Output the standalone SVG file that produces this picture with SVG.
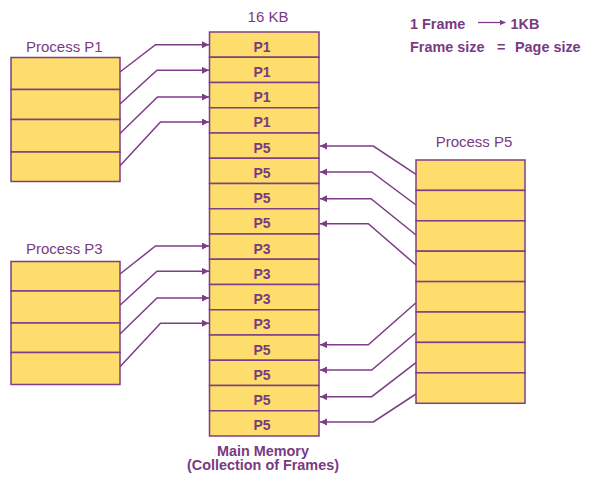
<svg xmlns="http://www.w3.org/2000/svg" width="591" height="478" viewBox="0 0 591 478">
<style>
.box{fill:#fddd6b;stroke:#7d3f86;stroke-width:1.5}
.lbl{font-family:"Liberation Sans",Arial,sans-serif;font-size:15px;fill:#7a3a82}
.b{font-family:"Liberation Sans",Arial,sans-serif;font-size:14.4px;font-weight:bold;fill:#7a3a82}
.mem{font-family:"Liberation Sans",Arial,sans-serif;font-size:14px;font-weight:bold;fill:#7a3a82;text-anchor:middle}
.cap{font-family:"Liberation Sans",Arial,sans-serif;font-size:14.4px;font-weight:bold;fill:#7a3a82;text-anchor:middle}
.c{fill:none;stroke:#7d3c86;stroke-width:1.5}
</style>
<defs>
<marker id="ah" markerWidth="8" markerHeight="8" refX="7" refY="3.5" orient="auto" markerUnits="userSpaceOnUse">
<path d="M0,0 L7,3.5 L0,7 z" fill="#7d3c86"/>
</marker>
<marker id="ahs" markerWidth="7" markerHeight="7" refX="6" refY="3" orient="auto" markerUnits="userSpaceOnUse">
<path d="M0,0 L6,3 L0,6 z" fill="#7d3c86"/>
</marker>
</defs>
<rect width="591" height="478" fill="#ffffff"/>

<g id="legend">
<text class="b" x="410" y="28.5">1 Frame</text>
<line x1="478" y1="22.5" x2="505.5" y2="22.5" stroke="#7d3c86" stroke-width="1.3" marker-end="url(#ahs)"/>
<text class="b" x="510.5" y="28.5">1KB</text>
<text class="b" x="410" y="52">Frame size</text>
<text class="b" x="497" y="52">=</text>
<text class="b" x="515" y="52">Page size</text>
</g>

<g id="process-p1">
<text class="lbl" x="26" y="51.5">Process P1</text>
<rect class="box" x="11" y="57.5" width="109" height="32"/>
<rect class="box" x="11" y="89.5" width="109" height="30"/>
<rect class="box" x="11" y="119.5" width="109" height="32.5"/>
<rect class="box" x="11" y="152" width="109" height="29.5"/>
</g>

<g id="process-p3">
<text class="lbl" x="26" y="253.5">Process P3</text>
<rect class="box" x="11" y="261.5" width="109" height="29.5"/>
<rect class="box" x="11" y="291" width="109" height="32"/>
<rect class="box" x="11" y="323" width="109" height="29.5"/>
<rect class="box" x="11" y="352.5" width="109" height="32"/>
</g>

<g id="process-p5">
<text class="lbl" x="474" y="146.5" text-anchor="middle">Process P5</text>
<rect class="box" x="416" y="160" width="109" height="30.4"/>
<rect class="box" x="416" y="190.4" width="109" height="30.4"/>
<rect class="box" x="416" y="220.8" width="109" height="30.4"/>
<rect class="box" x="416" y="251.2" width="109" height="30.4"/>
<rect class="box" x="416" y="281.6" width="109" height="30.4"/>
<rect class="box" x="416" y="312" width="109" height="30.4"/>
<rect class="box" x="416" y="342.4" width="109" height="30.4"/>
<rect class="box" x="416" y="372.8" width="109" height="30.5"/>
</g>

<g id="main-memory">
<text class="lbl" x="268" y="22" text-anchor="middle">16 KB</text>
<rect class="box" x="209.5" y="32" width="109.5" height="25.25"/>
<rect class="box" x="209.5" y="57.25" width="109.5" height="25.25"/>
<rect class="box" x="209.5" y="82.5" width="109.5" height="25.25"/>
<rect class="box" x="209.5" y="107.75" width="109.5" height="25.25"/>
<rect class="box" x="209.5" y="133" width="109.5" height="25.25"/>
<rect class="box" x="209.5" y="158.25" width="109.5" height="25.25"/>
<rect class="box" x="209.5" y="183.5" width="109.5" height="25.25"/>
<rect class="box" x="209.5" y="208.75" width="109.5" height="25.25"/>
<rect class="box" x="209.5" y="234" width="109.5" height="25.25"/>
<rect class="box" x="209.5" y="259.25" width="109.5" height="25.25"/>
<rect class="box" x="209.5" y="284.5" width="109.5" height="25.25"/>
<rect class="box" x="209.5" y="309.75" width="109.5" height="25.25"/>
<rect class="box" x="209.5" y="335" width="109.5" height="25.25"/>
<rect class="box" x="209.5" y="360.25" width="109.5" height="25.25"/>
<rect class="box" x="209.5" y="385.5" width="109.5" height="25.25"/>
<rect class="box" x="209.5" y="410.75" width="109.5" height="25.25"/>
<text class="mem" x="262" y="51.5">P1</text>
<text class="mem" x="262" y="76.75">P1</text>
<text class="mem" x="262" y="102">P1</text>
<text class="mem" x="262" y="127.25">P1</text>
<text class="mem" x="262" y="152.5">P5</text>
<text class="mem" x="262" y="177.75">P5</text>
<text class="mem" x="262" y="203">P5</text>
<text class="mem" x="262" y="228.25">P5</text>
<text class="mem" x="262" y="253.5">P3</text>
<text class="mem" x="262" y="278.75">P3</text>
<text class="mem" x="262" y="304">P3</text>
<text class="mem" x="262" y="329.25">P3</text>
<text class="mem" x="262" y="354.5">P5</text>
<text class="mem" x="262" y="379.75">P5</text>
<text class="mem" x="262" y="405">P5</text>
<text class="mem" x="262" y="430.25">P5</text>
<text class="cap" x="263" y="455.5">Main Memory</text>
<text class="cap" x="263" y="470">(Collection of Frames)</text>
</g>

<g id="connectors">
<polyline class="c" points="120,72 155.5,44.7 209,44.7" marker-end="url(#ah)"/>
<polyline class="c" points="120,104 157,70.3 209,70.3" marker-end="url(#ah)"/>
<polyline class="c" points="120,133.5 157.5,97 209,97" marker-end="url(#ah)"/>
<polyline class="c" points="120,165.7 160.5,122 209,122" marker-end="url(#ah)"/>

<polyline class="c" points="120,274 155.5,246 209,246" marker-end="url(#ah)"/>
<polyline class="c" points="120,305.3 157,271.3 209,271.3" marker-end="url(#ah)"/>
<polyline class="c" points="120,334 157,298 209,298" marker-end="url(#ah)"/>
<polyline class="c" points="120,366.7 160.5,323.3 209,323.3" marker-end="url(#ah)"/>

<polyline class="c" points="416,174.3 373.3,146 320,146" marker-end="url(#ah)"/>
<polyline class="c" points="416,205 371.7,172 320,172" marker-end="url(#ah)"/>
<polyline class="c" points="416,235 371,198.7 320,198.7" marker-end="url(#ah)"/>
<polyline class="c" points="416,265 368.3,223.7 320,223.7" marker-end="url(#ah)"/>

<polyline class="c" points="416,302.7 368.3,344.7 320,344.7" marker-end="url(#ah)"/>
<polyline class="c" points="416,332.7 371.7,370 320,370" marker-end="url(#ah)"/>
<polyline class="c" points="416,362.7 371.7,396.7 320,396.7" marker-end="url(#ah)"/>
<polyline class="c" points="416,394 373.3,422 320,422" marker-end="url(#ah)"/>
</g>
</svg>
